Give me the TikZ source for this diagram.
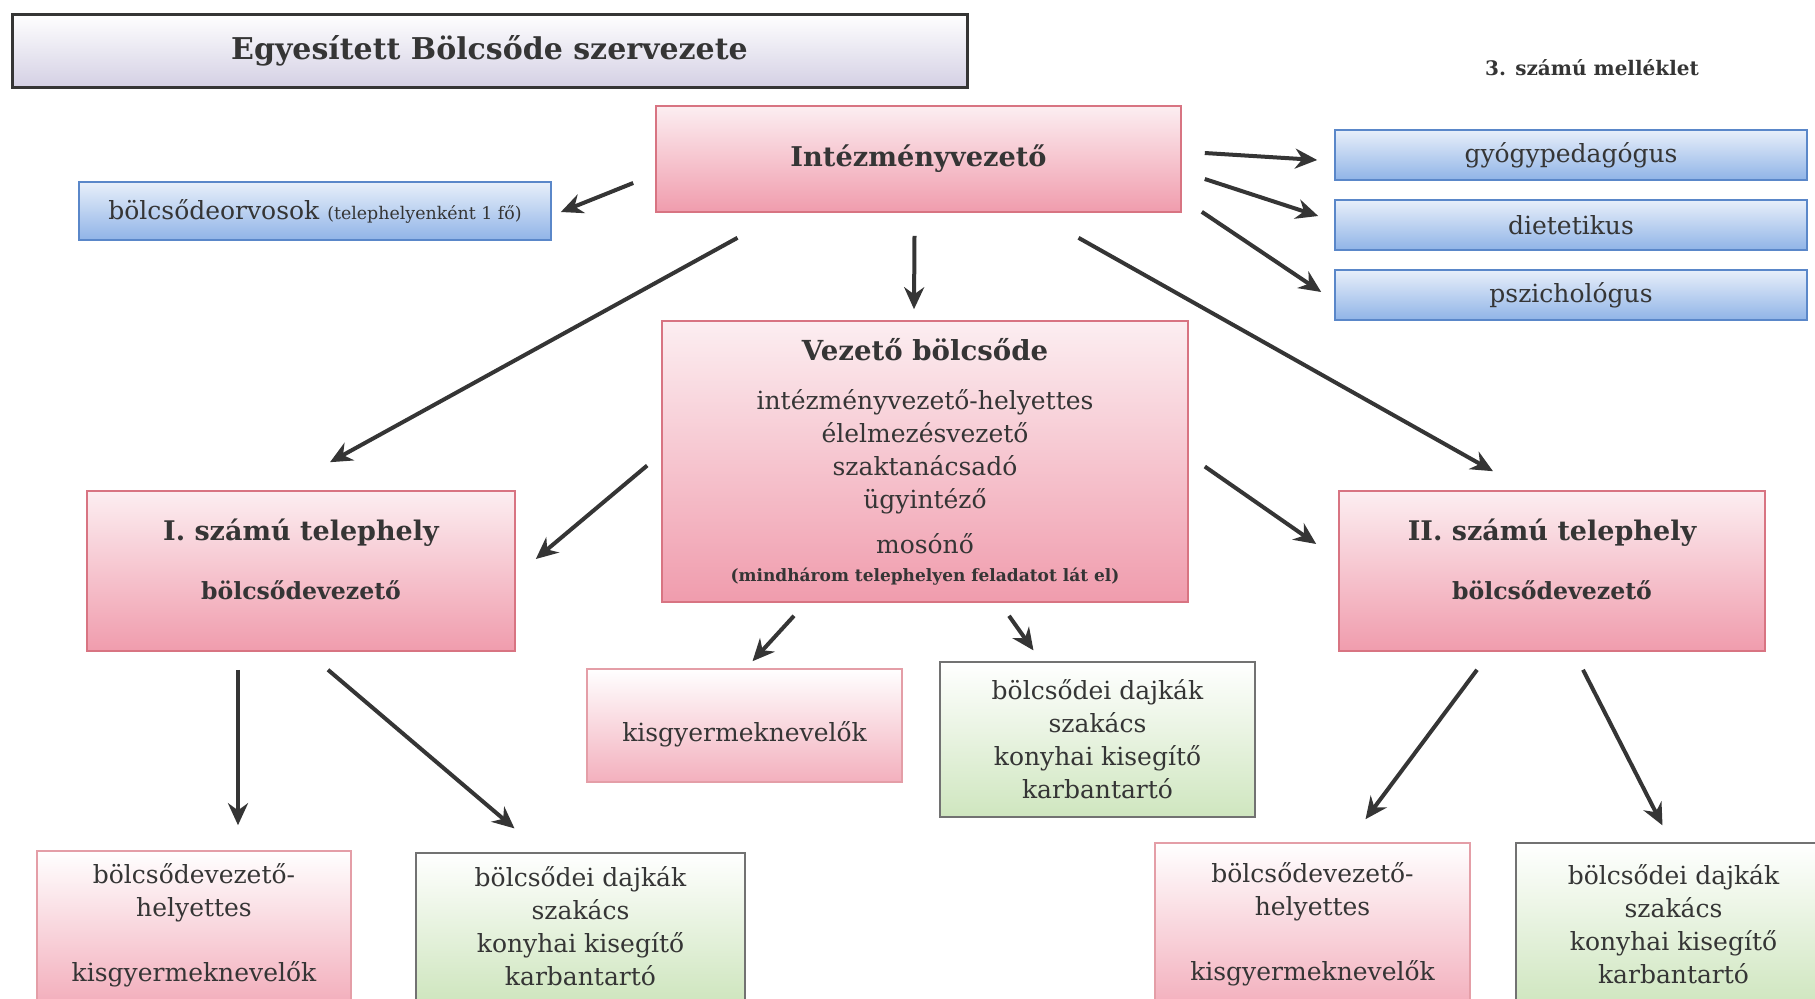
\documentclass[tikz,border=0pt]{standalone}
\usepackage{fontspec}
\setmainfont{DejaVu Serif}
\usetikzlibrary{arrows.meta,calc}

\definecolor{pinktop}{HTML}{FCEEF1}
\definecolor{pinkbot}{HTML}{F09CAD}
\definecolor{pinkline}{HTML}{D87482}
\definecolor{bluetop}{HTML}{E8EFFA}
\definecolor{bluebot}{HTML}{90B4E7}
\definecolor{blueline}{HTML}{5A87C9}
\definecolor{greenbot}{HTML}{CFE6BF}
\definecolor{titlebot}{HTML}{D4D0E4}
\definecolor{inkgray}{HTML}{353535}

\begin{document}
\begin{tikzpicture}[x=0.5pt,y=-0.5pt,->,>={Stealth[length=11pt,width=10pt]},line width=2pt,draw=inkgray]
\tikzstyle{box}=[rectangle,inner sep=0pt,align=center,text=inkgray,line width=0.8pt,font=\fontsize{12.5}{16.5}\selectfont]
\tikzstyle{pink box}=[box,draw=pinkline,top color=pinktop,bottom color=pinkbot]
\tikzstyle{soft box}=[box,draw=pinkline!70,top color=white,bottom color=pinkbot!80]
\tikzstyle{blue box}=[box,draw=blueline,top color=bluetop,bottom color=bluebot]
\tikzstyle{green box}=[box,draw=inkgray!70,line width=0.6pt,top color=white,bottom color=greenbot]
\tikzstyle{title box}=[box,draw=inkgray,line width=1.5pt,top color=white,bottom color=titlebot,font=\bfseries\fontsize{15}{18}\selectfont]

\clip (0,0) rectangle (1815,998);

% Draw the title and the annex note
\node[title box,minimum width=477.5pt,minimum height=36.5pt] (title) at (489.5,50.5) {Egyesített Bölcsőde szervezete};
\node[text=inkgray,font=\bfseries\fontsize{10}{12}\selectfont] (annex) at (1592,68) {3. számú melléklet};

% Draw the head of the institution
\node[pink box,minimum width=262.5pt,minimum height=53pt] (intez) at (918.5,159) {\bfseries\fontsize{13.6}{16}\selectfont Intézményvezető};

% Draw the blue side boxes
\node[blue box,minimum width=236pt,minimum height=29pt] (orvos) at (315,211)
  {bölcsődeorvosok {\fontsize{8.7}{10}\selectfont(telephelyenként 1 fő)}};
\foreach \name/\y/\txt in {gyogy/155/gyógypedagógus,diet/225/dietetikus,pszich/295/pszichológus}
\node[blue box,minimum width=236pt,minimum height=25pt] (\name) at (1571,\y) {\txt};

% Draw the leading nursery
\node[pink box,minimum width=263pt,minimum height=140.5pt] (vezeto) at (925,461.5)
  {{\bfseries\fontsize{13.8}{16}\selectfont Vezető bölcsőde}\\[8pt]
   intézményvezető-helyettes\\ élelmezésvezető\\ szaktanácsadó\\ ügyintéző\\[6pt]
   mosónő\\[-2.5pt]
   {\bfseries\fontsize{8.5}{11}\selectfont (mindhárom telephelyen feladatot lát el)}};

% Draw the two sites
\node[pink box,minimum width=214pt,minimum height=80pt] (tel1) at (301,571)
  {{\bfseries\fontsize{13.5}{16}\selectfont I. számú telephely}\\[13pt]
   {\bfseries\fontsize{11.8}{14}\selectfont bölcsődevezető}\\[-5pt]\mbox{}};
\node[pink box,minimum width=213pt,minimum height=80pt] (tel2) at (1552,571)
  {{\bfseries\fontsize{13.5}{16}\selectfont II. számú telephely}\\[13pt]
   {\bfseries\fontsize{11.8}{14}\selectfont bölcsődevezető}\\[-5pt]\mbox{}};

% Draw the staff of the leading nursery
\node[soft box,minimum width=157.5pt,minimum height=56.5pt] (kisgy) at (744.5,725.5) {\mbox{}\\[2pt]kisgyermeknevelők};
\node[green box,minimum width=157.5pt,minimum height=77.5pt] (dajka) at (1097.5,739.5)
  {bölcsődei dajkák\\ szakács\\ konyhai kisegítő\\ karbantartó};

% Draw the staff of the sites
\node[soft box,minimum width=157pt,minimum height=74.5pt] (helyI) at (194,925.5)
  {bölcsődevezető-\\ helyettes\\[16pt] kisgyermeknevelők};
\node[green box,minimum width=164.5pt,minimum height=73.5pt] (dajkaI) at (580.5,926.5)
  {bölcsődei dajkák\\ szakács\\ konyhai kisegítő\\ karbantartó};
\node[soft box,minimum width=157.5pt,minimum height=81pt] (helyII) at (1312.5,924)
  {bölcsődevezető-\\ helyettes\\[16pt] kisgyermeknevelők};
\node[green box,minimum width=157.5pt,minimum height=81pt] (dajkaII) at (1673.5,924)
  {bölcsődei dajkák\\ szakács\\ konyhai kisegítő\\ karbantartó};

% Connect the head with the side boxes
\draw ($(intez.west)+(-22,24)$) -- ($(orvos.east)+(9,1)$);
\draw ($(intez.east)+(23,-6)$) -- ($(gyogy.west)+(-17,5)$);
\draw ($(intez.east)+(23,20)$) -- ($(diet.west)+(-16,-9)$);
\draw ($(intez.south east)+(20,-1)$) -- ($(pszich.west)+(-13,-3)$);

% Connect the head with the nurseries
\draw ($(intez.south)+(-4,23)$) -- ($(vezeto.north)+(-11,-11)$);
\draw ($(intez.south)+(-181,25)$) -- ($(tel1.north)+(29,-28)$);
\draw ($(intez.south)+(160,25)$) -- ($(tel2.north)+(-59,-19)$);
\draw ($(vezeto.west)+(-14,4)$) -- ($(tel1.east)+(20,-12)$);
\draw ($(vezeto.east)+(16,5)$) -- ($(tel2.west)+(-22,-27)$);
\draw ($(vezeto.south)+(-131,13)$) -- ($(kisgy.north)+(8,-7)$);
\draw ($(vezeto.south)+(84,13)$) -- ($(dajka.north)+(-64,-11)$);

% Connect the sites with their staff
\draw ($(tel1.south)+(-63,18)$) -- ($(helyI.north)+(44,-25)$);
\draw ($(tel1.south)+(27,18)$) -- ($(dajkaI.north)+(-66,-24)$);
\draw ($(tel2.south)+(-75,18)$) -- ($(helyII.north)+(53,-23)$);
\draw ($(tel2.south)+(31,18)$) -- ($(dajkaII.north)+(-11,-17)$);
\end{tikzpicture}
\end{document}
